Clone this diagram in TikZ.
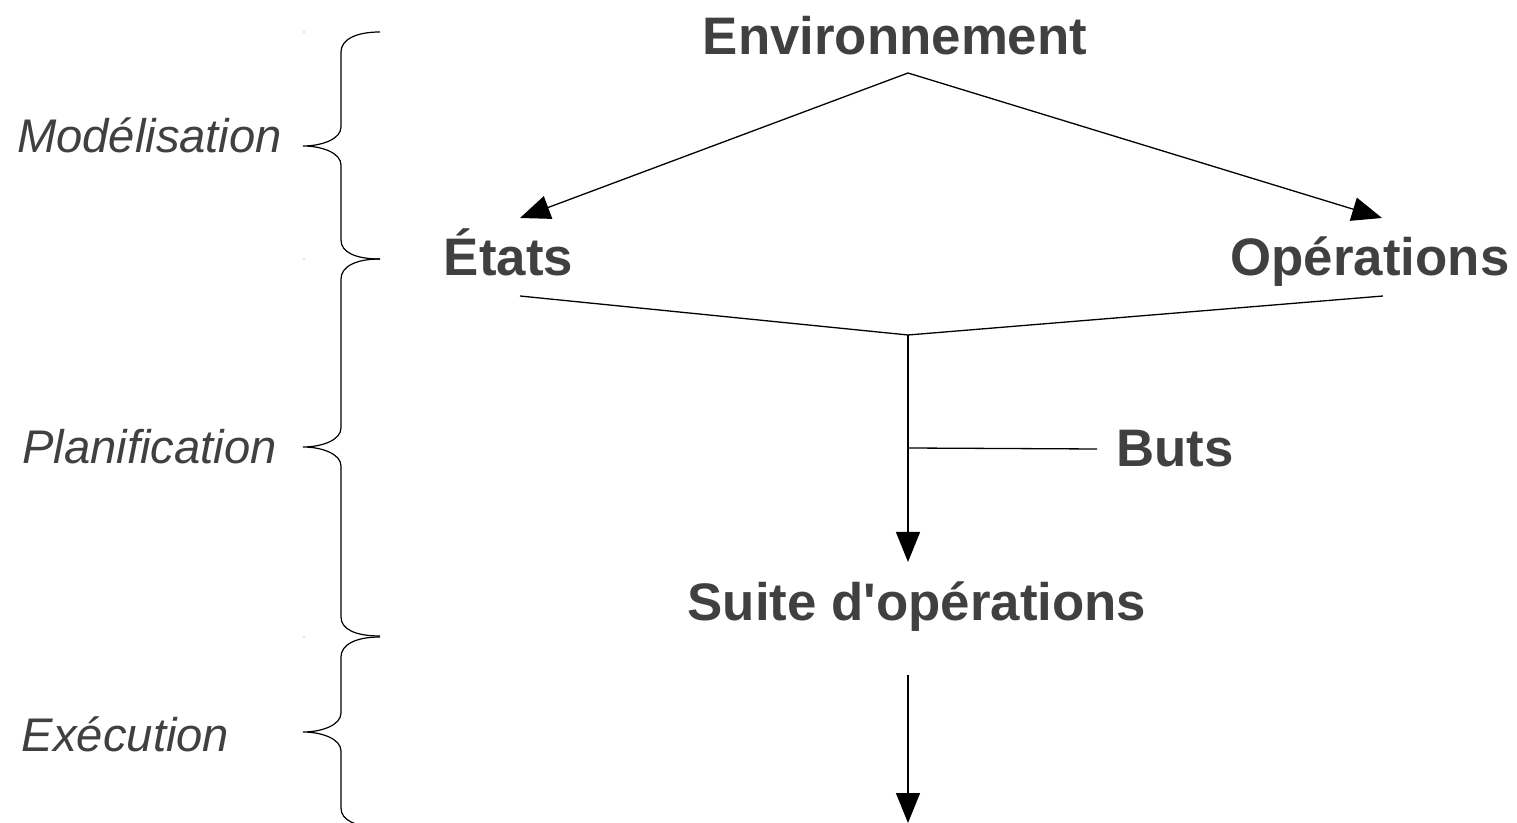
\documentclass[tikz,border=0pt]{standalone}
\usepackage{fontspec}
\setmainfont{Liberation Sans}
\usetikzlibrary{arrows.meta}
\definecolor{txt}{HTML}{404040}
\tikzset{
  title/.style={font=\fontsize{26.4}{30}\selectfont\bfseries, text=txt, inner sep=0pt, anchor=base},
  phase/.style={font=\fontsize{23.6}{28}\selectfont\itshape, text=txt, inner sep=0pt, anchor=base},
  link/.style={line width=0.65pt, draw=black},
  arrow/.style={link, -{Triangle[length=15pt,width=12pt]}},
  brace/.style={line width=0.6pt, draw=black},
}
\begin{document}
\begin{tikzpicture}[x=0.5pt, y=-0.5pt]
\useasboundingbox (0,0) rectangle (1517,823);
\clip (0,0) rectangle (1517,823);

% Labels of the three stages
\node[title] (env)   at (895,55)  {Environnement};
\node[title] (etats) at (508.5,276) {États};
\node[title] (ops)   at (1370,276) {Opérations};
\node[title] (buts)  at (1175,467) {Buts};
\node[title] (suite) at (917,621) {Suite d\textquotesingle opérations};

\node[phase] (model) at (149.5,153) {Modélisation};
\node[phase] (plan)  at (149.5,464) {Planification};
\node[phase] (exec)  at (125.5,752) {Exécution};

% Junction points of the connectors
\coordinate (envtop)  at (908,73);
\coordinate (etatsin) at (520,218);
\coordinate (opsin)   at (1382,218);
\coordinate (etatsout) at (520,296);
\coordinate (opsout)  at (1383,296);
\coordinate (merge)   at (908,335);
\coordinate (goal)    at (908,448);
\coordinate (butsin)  at (1097,449);
\coordinate (suitein) at (908,562);
\coordinate (suiteout) at (908,675);
\coordinate (result)  at (908,823);

\draw[arrow] (envtop) -- (etatsin);
\draw[arrow] (envtop) -- (opsin);
\draw[link] (etatsout) -- (merge) -- (opsout);
\draw[arrow] (merge) -- (suitein);
\draw[link] (goal) -- (butsin);
\draw[arrow] (suiteout) -- (result);

% Curly braces grouping the stages
\draw[brace] (380,32) .. controls (355,32) and (341,40) .. (341,52)
  -- (341,127) .. controls (341,139) and (322,146) .. (303,146)
  .. controls (322,146) and (341,153) .. (341,165)
  -- (341,240) .. controls (341,252) and (355,259) .. (380,259);
\draw[brace] (380,259) .. controls (355,259) and (341,267) .. (341,279)
  -- (341,428) .. controls (341,440) and (322,447) .. (303,447)
  .. controls (322,447) and (341,454) .. (341,466)
  -- (341,617) .. controls (341,629) and (355,636) .. (380,636);
\draw[brace] (380,637) .. controls (355,637) and (341,645) .. (341,657)
  -- (341,713) .. controls (341,725) and (322,732) .. (303,732)
  .. controls (322,732) and (341,739) .. (341,751)
  -- (341,808) .. controls (341,820) and (355,827) .. (380,827);

% Small marks beside the brace ends
\fill[gray] (304,32) circle (0.6);
\fill[gray] (304,259) circle (0.6);
\fill[gray] (304,637) circle (0.6);
\end{tikzpicture}
\end{document}
